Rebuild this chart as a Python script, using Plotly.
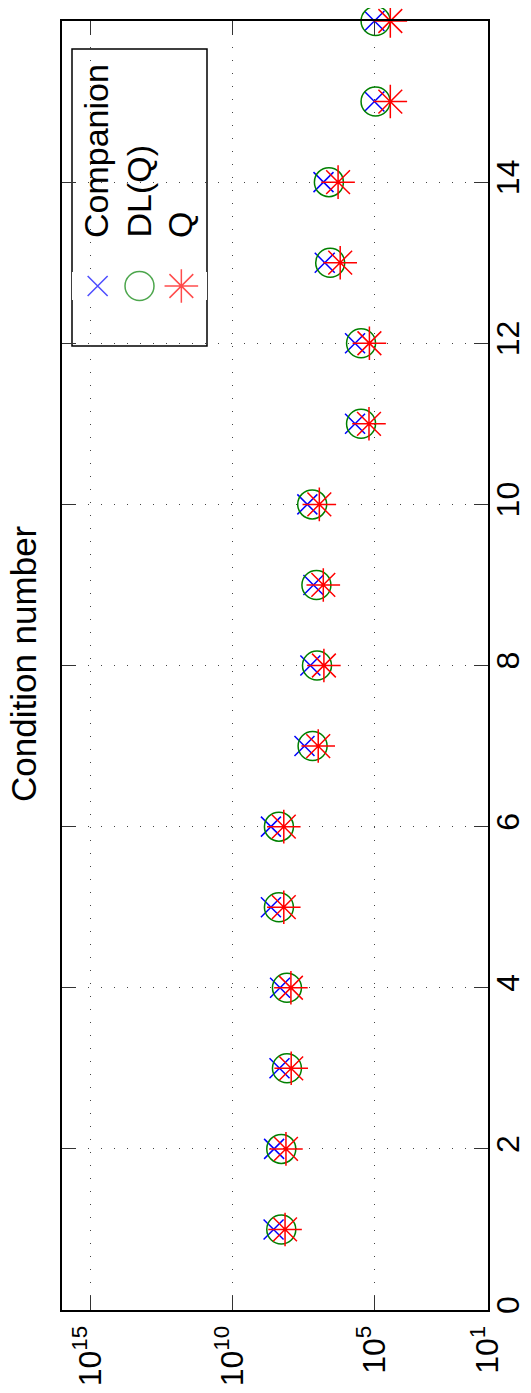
import plotly.graph_objects as go

# ---- data ----
index = list(range(1, 17))
companion = [3.55e8, 3.4e8, 2.2e8, 2.1e8, 4.4e8, 4.4e8, 2.9e7, 1.8e7,
             1.4e7, 2.3e7, 4.8e5, 4.8e5, 5.6e6, 6.2e6, 1.0e5, 1.0e5]
dlq = [1.9e8, 1.9e8, 1.2e8, 1.2e8, 2.3e8, 2.3e8, 1.5e7, 1.05e7,
       1.1e7, 1.55e7, 2.95e5, 2.95e5, 3.6e6, 4.0e6, 9.1e4, 9.1e4]
q = [1.4e8, 1.3e8, 8.5e7, 8.7e7, 1.55e8, 1.55e8, 9.5e6, 6.0e6,
     6.3e6, 8.7e6, 1.55e5, 1.5e5, 1.6e6, 1.9e6, 2.75e4, 2.75e4]
series_names = ["Companion", "DL(Q)", "Q"]
x_tickvals = [1e15, 1e10, 1e5, 1e1]
x_ticktext = ["10<sup>15</sup>", "10<sup>10</sup>", "10<sup>5</sup>", "10<sup>1</sup>"]
y_tickvals = list(range(0, 17, 2))
title_text = "Condition number"

# ---- styles ----
styles = [
    dict(symbol="x-thin-open", size=20, color="#0000ff"),
    dict(symbol="circle-open", size=29, color="#008000"),
    dict(symbol="asterisk-open", size=28, color="#ff0000"),
]
FONT = "Liberation Sans, Arial, sans-serif"

# page has an 8px body margin; figure sized to fit the 531x1393 window
OFF = 8
W, H = 531 - OFF, 1393 - OFF
# plot area in page pixels: x 62..488, y 21..1310
ML, MT = 62 - OFF, 21 - OFF
MR, MB = W - (488 - OFF), H - (1310 - OFF)
PW, PH = W - ML - MR, H - MT - MB

def px_x(x):  # page px -> paper
    return (x - OFF - ML) / PW

def px_y(y):
    return (H - MB - (y - OFF)) / PH

fig = go.Figure()
for name, vals, st in zip(series_names, [companion, dlq, q], styles):
    fig.add_trace(go.Scatter(
        x=vals, y=index, mode="markers", name=name, cliponaxis=False,
        marker=dict(symbol=st["symbol"], size=st["size"], color=st["color"],
                    line=dict(color=st["color"], width=1.5)),
        showlegend=False))

# ---- custom rotated legend ----
lx0, lx1, ly0, ly1 = 72, 207, 49, 346
fig.add_shape(type="rect", xref="paper", yref="paper",
              x0=px_x(lx0), x1=px_x(lx1), y0=px_y(ly1), y1=px_y(ly0),
              line=dict(color="black", width=1.5), fillcolor="white", layer="between")
col_x = [96, 138, 180]
for i, (name, st) in enumerate(zip(series_names, styles)):
    fig.add_annotation(xref="paper", yref="paper", x=px_x(col_x[i]), y=px_y(240),
                       text=name, textangle=-90, showarrow=False,
                       xanchor="center", yanchor="bottom",
                       font=dict(family=FONT, size=34, color="black"))
fig.add_trace(go.Scatter(
    x=[0.19, 0.5, 0.81], y=[0.5, 0.5, 0.5], xaxis="x2", yaxis="y2",
    mode="markers", showlegend=False, hoverinfo="skip", cliponaxis=False,
    marker=dict(symbol=[s["symbol"] for s in styles], size=[s["size"] for s in styles],
                color=[s["color"] for s in styles],
                line=dict(color=[s["color"] for s in styles], width=1.5))))

fig.add_annotation(xref="paper", yref="paper", x=px_x(23), y=px_y(664),
                   text=title_text, textangle=-90, showarrow=False,
                   xanchor="center", yanchor="middle", borderpad=0,
                   font=dict(family=FONT, size=35, color="black"))

axis_common = dict(
    ticks="inside", ticklen=14, tickwidth=1, tickcolor="#333",
    showline=True, linecolor="black", linewidth=2, mirror="ticks",
    showgrid=True, gridcolor="#444", gridwidth=1, griddash="1px,12px",
    zeroline=False, automargin=False,
    tickfont=dict(family=FONT, size=32, color="black"),
)

fig.update_layout(
    width=W, height=H, margin=dict(l=ML, r=MR, t=MT, b=MB),
    paper_bgcolor="white", plot_bgcolor="white",
    xaxis=dict(type="log", range=[16, 1], tickvals=x_tickvals, ticktext=x_ticktext,
               tickangle=-90, ticklabelstandoff=1, **axis_common),
    yaxis=dict(range=[0, 16], side="right", tickvals=y_tickvals, tickangle=-90,
               ticklabelstandoff=-9, **axis_common),
    xaxis2=dict(domain=[px_x(lx0), px_x(lx1)], range=[0, 1], visible=False, anchor="y2"),
    yaxis2=dict(domain=[px_y(300), px_y(272)], range=[0, 1], visible=False, anchor="x2"),
    font=dict(family=FONT),
)

fig.write_html("out.html")
